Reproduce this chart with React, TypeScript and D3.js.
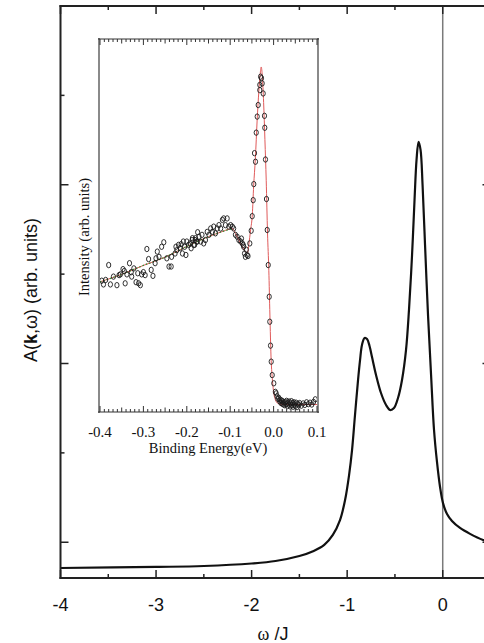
import React from 'react';
import * as d3 from 'd3';

// ---------- main spectral function ----------
const mainOmega = [-4, -3, -2.5, -2, -1.75, -1.5, -1.35, -1.24, -1.15, -1.075, -1.022, -0.98, -0.949, -0.918, -0.886, -0.865, -0.845, -0.818, -0.792, -0.766, -0.74, -0.698, -0.646, -0.593, -0.551, -0.51, -0.468, -0.426, -0.384, -0.353, -0.321, -0.295, -0.274, -0.253, -0.232, -0.211, -0.185, -0.154, -0.122, -0.091, -0.06, -0.028, 0.003, 0.045, 0.097, 0.181, 0.286, 0.422, 0.5];
const mainA = [-0.144, -0.138, -0.133, -0.119, -0.105, -0.077, -0.049, -0.015, 0.041, 0.124, 0.236, 0.376, 0.516, 0.712, 0.908, 1.020, 1.104, 1.143, 1.137, 1.098, 1.036, 0.936, 0.835, 0.768, 0.740, 0.751, 0.807, 0.908, 1.076, 1.300, 1.607, 1.915, 2.139, 2.240, 2.195, 2.000, 1.663, 1.272, 0.937, 0.628, 0.449, 0.309, 0.219, 0.158, 0.119, 0.080, 0.047, 0.013, 0.001];
const mainXTicks = [-4, -3, -2, -1, 0];
const mainXTickLabels = ['-4', '-3', '-2', '-1', '0'];

// ---------- inset ARPES data ----------
const dataE = [
  -0.396, -0.387, -0.392, -0.380, -0.376, -0.369, -0.361, -0.356, -0.353, -0.347, -0.344, -0.342, -0.338, -0.332, -0.328, -0.327, -0.322, -0.317, -0.313, -0.311, -0.307, -0.304, -0.300, -0.296, -0.292, -0.288, -0.282, -0.278, -0.273, -0.271, -0.268, -0.264, -0.258, -0.253, -0.246, -0.241, -0.236, -0.235, -0.227, -0.225, -0.223, -0.219, -0.215, -0.213, -0.210, -0.208, -0.205, -0.202, -0.200, -0.196, -0.192, -0.190, -0.187, -0.182, -0.181, -0.177, -0.175,
  -0.1876, -0.184, -0.180, -0.176, -0.172, -0.168, -0.165, -0.161, -0.157, -0.153, -0.149, -0.145, -0.141, -0.138, -0.134, -0.130, -0.126, -0.122, -0.118, -0.115, -0.111, -0.107, -0.103, -0.099, -0.095, -0.092, -0.088, -0.084, -0.080, -0.076, -0.072, -0.069, -0.065, -0.061,
  -0.063, -0.059, -0.067, -0.070, -0.074,
  -0.0548, -0.0516, -0.0493, -0.047, -0.0456, -0.044, -0.0417, -0.040, -0.0378, -0.0355, -0.0318, -0.0318, -0.030, -0.0279, -0.0263, -0.024, -0.021, -0.0203, -0.0187, -0.0164, -0.0147, -0.0124, -0.0101, -0.0088, -0.0071, -0.0055, -0.0032, 0.0005,
  0.004, 0.006, 0.008, 0.010, 0.012, 0.014, 0.015, 0.017, 0.018, 0.020, 0.021, 0.023, 0.024, 0.026, 0.027, 0.029, 0.030, 0.032, 0.033, 0.035, 0.036, 0.038, 0.039, 0.041, 0.042, 0.044, 0.045, 0.047, 0.048, 0.050, 0.052, 0.054, 0.056, 0.058, 0.060, 0.064, 0.068, 0.072, 0.076, 0.080, 0.084, 0.088, 0.092, 0.096
];
const dataI = [
  35.2, 35.4, 34.2, 39.4, 34.2, 36.3, 34.0, 36.7, 36.9, 38.3, 37.8, 34.5, 36.9, 39.9, 37.5, 36.3, 38.5, 34.8, 37.2, 34.5, 34.0, 36.9, 37.5, 36.7, 43.7, 41.0, 38.1, 36.5, 39.9, 41.2, 43.0, 41.6, 44.3, 45.5, 41.2, 39.0, 39.0, 41.6, 42.5, 44.3, 43.4, 44.8, 43.9, 45.0, 42.5, 45.7, 44.3, 42.1, 45.7, 44.8, 45.2, 43.9, 46.6, 44.8, 46.1, 45.7, 48.2,
  46.1, 44.8, 46.6, 45.7, 47.0, 45.7, 47.5, 45.2, 46.1, 48.3, 47.5, 49.2, 48.3, 49.7, 47.9, 49.2, 50.1, 49.2, 51.5, 51.9, 50.1, 51.9, 49.7, 50.1, 49.7, 49.2, 47.5, 47.0, 46.1, 45.7, 45.2, 44.3, 41.6, 42.1,
  43.5, 41.8, 42.5, 44.8, 46.5,
  45.2, 48.6, 52.5, 56.8, 61.1, 69.4, 67.1, 74.9, 79.2, 82.3, 86.3, 87.7, 89.9, 89.5, 88.1, 85.4, 79.4, 76.2, 67.7, 57.1, 48.8, 39.4, 30.9, 24.2, 17.8, 13.5, 9.9, 7.7,
  5.4, 5.0, 4.2, 3.5, 3.8, 2.9, 3.3, 2.4, 3.1, 2.2, 2.9, 2.0, 2.6, 1.8, 2.7, 2.1, 3.0, 1.6, 2.5, 2.0, 2.8, 1.5, 2.3, 2.9, 1.8, 2.4, 1.4, 2.6, 2.0, 1.6, 2.5, 1.3, 2.2, 1.8, 2.4, 1.7, 2.3, 1.9, 2.6, 2.1, 2.5, 2.0, 2.7, 3.4
];
const fitE = [-0.4, -0.35, -0.3, -0.25, -0.2, -0.15, -0.12, -0.095, -0.088, -0.076, -0.065, -0.060, -0.057, -0.053, -0.049, -0.046, -0.042, -0.038, -0.034, -0.031, -0.0285, -0.026, -0.023, -0.020, -0.017, -0.014, -0.011, -0.0085, -0.006, -0.003, 0.0005, 0.004, 0.010, 0.020, 0.1];
const fitI = [34.9, 36.9, 39.3, 41.5, 44.4, 47.0, 48.3, 49.2, 47.9, 45.2, 43.0, 42.7, 45.0, 48.8, 53.0, 60.5, 68.0, 78.0, 86.0, 90.5, 92.5, 90.0, 83.0, 73.0, 62.0, 48.0, 38.0, 26.0, 15.0, 9.0, 5.0, 3.3, 2.3, 2.0, 2.0];
const bgE = [-0.4, -0.35, -0.3, -0.25, -0.2, -0.15, -0.12, -0.095];
const bgI = [34.9, 36.9, 39.3, 41.5, 44.4, 47.0, 48.3, 49.2];
const insetTicks = [-0.4, -0.3, -0.2, -0.1, 0.0, 0.1];
const insetTickLabels = ['-0.4', '-0.3', '-0.2', '-0.1', '0.0', '0.1'];

const SANS = '"Liberation Sans", Arial, sans-serif';
const SERIF = '"Liberation Serif", "Times New Roman", serif';

export default function App() {
  const W = 484, H = 643;
  const x = d3.scaleLinear().domain([-4, 0.5]).range([60.5, 490.5]);
  const y = d3.scaleLinear().domain([-0.2, 3.0]).range([578, 6]);

  const mainPts: [number, number][] = mainOmega.map((o, i) => [o, mainA[i]]);
  const mainLine = d3.line<[number, number]>()
    .x(d => x(d[0])).y(d => y(d[1]))
    .curve(d3.curveCatmullRom.alpha(0.5));

  const xi = d3.scaleLinear().domain([-0.4, 0.1]).range([100, 317]);
  const yi = d3.scaleLinear().domain([0, 100]).range([412, 39]);
  const fitLine = d3.line<[number, number]>()
    .x(d => xi(d[0])).y(d => yi(d[1]))
    .curve(d3.curveMonotoneX);
  const fitPts: [number, number][] = fitE.map((e, i) => [e, fitI[i]]);
  const bgPts: [number, number][] = bgE.map((e, i) => [e, bgI[i]]);

  const xMinor = d3.range(-4, 0.51, 0.5);
  const yMinor = d3.range(0, 3.01, 0.5);
  const insetMinor = d3.range(-40, 11).map(i => i / 100);

  return (
    <svg width={W} height={H} style={{ position: 'absolute', left: 0, top: 0, background: '#fff' }}>
      {/* zero line */}
      <line x1={x(0)} x2={x(0)} y1={6} y2={578} stroke="#7a7a7a" strokeWidth={1.5} />

      {/* main curve */}
      <path d={mainLine(mainPts) || ''} fill="none" stroke="#111" strokeWidth={2.2} />

      {/* main frame */}
      <g stroke="#222" strokeWidth={2} fill="none">
        <line x1={60.5} x2={60.5} y1={5} y2={579} />
        <line x1={59.5} x2={491} y1={578} y2={578} />
        <line x1={59.5} x2={491} y1={6} y2={6} />
        <line x1={490.5} x2={490.5} y1={5} y2={579} />
      </g>
      <g stroke="#222" strokeWidth={1.5}>
        {xMinor.map((v, i) => {
          const major = Math.abs(v - Math.round(v)) < 1e-6;
          const L = major ? 8 : 4;
          return (
            <g key={'xt' + i}>
              <line x1={x(v)} x2={x(v)} y1={578} y2={578 - L} />
              <line x1={x(v)} x2={x(v)} y1={6} y2={6 + L} />
            </g>
          );
        })}
        {yMinor.map((v, i) => {
          const major = Math.abs(v - Math.round(v)) < 1e-6;
          const L = major ? 8 : 4;
          return (
            <g key={'yt' + i}>
              <line x1={60.5} x2={60.5 + L} y1={y(v)} y2={y(v)} />
              <line x1={490.5} x2={490.5 - L} y1={y(v)} y2={y(v)} />
            </g>
          );
        })}
      </g>
      <g fontFamily={SANS} fontSize={18} fill="#111" textAnchor="middle">
        {mainXTicks.map((v, i) => (
          <text key={'xl' + i} x={x(v)} y={611}>{mainXTickLabels[i]}</text>
        ))}
      </g>
      <text x={273} y={640} textAnchor="middle" fontSize={18} fill="#111">
        <tspan fontFamily={SERIF}>ω</tspan>
        <tspan fontFamily={SANS}> /J</tspan>
      </text>
      <text transform="translate(37,290) rotate(-90)" textAnchor="middle" fontFamily={SANS} fontSize={18} fill="#111">
        <tspan>A(</tspan><tspan fontWeight="bold">k</tspan><tspan>,ω) (arb. units)</tspan>
      </text>

      {/* ---------- inset ---------- */}
      <rect x={99} y={39} width={219} height={373} fill="#fff" />
      <path d={fitLine(fitPts) || ''} fill="none" stroke="#e05a5a" strokeWidth={1} />
      <path d={fitLine(bgPts) || ''} fill="none" stroke="#2e8b2e" strokeWidth={1.3} strokeDasharray="1.5,2" />
      <g fill="none" stroke="#1a1a1a" strokeWidth={0.9}>
        {dataE.map((e, i) => (
          <ellipse key={'p' + i} cx={xi(e)} cy={yi(dataI[i])} rx={2.1} ry={2.7} />
        ))}
      </g>
      <g stroke="#8a8a8a" strokeWidth={2}>
        <line x1={99} x2={99} y1={38} y2={413} />
        <line x1={318} x2={318} y1={38} y2={413} />
      </g>
      <g stroke="#333" strokeWidth={1}>
        <line x1={98} x2={319} y1={39} y2={39} />
        <line x1={98} x2={319} y1={412} y2={412} />
        {insetMinor.map((v, i) => {
          const k = Math.round(v * 100);
          const L = k % 10 === 0 ? 6 : (k % 5 === 0 ? 4.5 : 3);
          return (
            <g key={'it' + i}>
              <line x1={xi(v)} x2={xi(v)} y1={412} y2={412 - L} />
              <line x1={xi(v)} x2={xi(v)} y1={39} y2={39 + L} />
            </g>
          );
        })}
      </g>
      <g fontFamily={SERIF} fill="#111" textAnchor="middle">
        {insetTicks.map((v, i) => (
          <text key={'il' + i} x={xi(v)} y={437} fontSize={15}>{insetTickLabels[i]}</text>
        ))}
        <text x={208} y={453} fontSize={14.5}>Binding Energy(eV)</text>
        <text transform="translate(89,237) rotate(-90)" fontSize={14.5}>Intensity (arb. units)</text>
      </g>
    </svg>
  );
}
